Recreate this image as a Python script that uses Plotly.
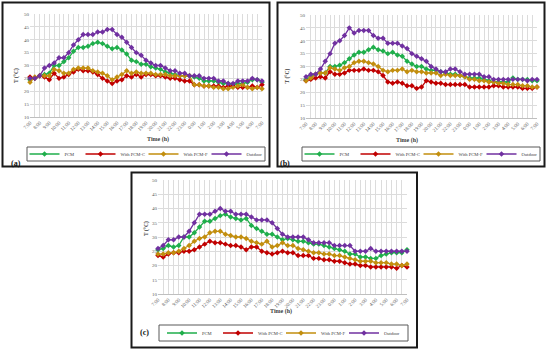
import plotly.graph_objects as go

hour_labels = ["7:00", "8:00", "9:00", "10:00", "11:00", "12:00", "13:00", "14:00", "15:00",
               "16:00", "17:00", "18:00", "19:00", "20:00", "21:00", "22:00", "23:00", "0:00",
               "1:00", "2:00", "3:00", "4:00", "5:00", "6:00", "7:00"]

# Panel (a)
a_pcm = [24.5, 25, 26, 26.5, 27, 30, 30, 31.5, 33, 35.5, 37, 37, 37.5, 38.5, 39, 38.5, 37.5, 36.5,
         37, 36, 34.5, 32, 31.5, 30.5, 30.5, 29.5, 29, 28.5, 27.5, 27, 26.5, 26, 26, 26, 25.5, 25,
         24, 24, 24, 23.5, 23, 23, 22.5, 23, 23, 23.5, 24.5, 24.5, 23.5]
a_pcm_c = [25.5, 25, 26, 25.5, 24.5, 27, 25, 25.5, 26.5, 27.5, 28.5, 28, 28, 27.5, 26.5, 25, 24,
           23, 24, 24.5, 26, 25.5, 26.5, 25.5, 26.5, 26.5, 26, 26, 25.5, 25, 25, 24.5, 24, 24, 22.5,
           22.5, 22, 22, 22, 22, 21.5, 22, 22, 21.5, 21.5, 21.5, 22, 21.5, 22.5]
a_pcm_f = [23.5, 25.5, 26, 26, 26, 28.5, 28, 27, 27, 28.5, 29, 29, 29, 28, 27.5, 27, 26, 24.5, 25.5,
           26.5, 28, 27, 27.5, 27, 27, 27, 26.5, 26.5, 26.5, 26, 26, 26, 26, 26, 22.5, 22.5, 22, 22,
           21.5, 21.5, 21, 21, 21.5, 22, 22.5, 21.5, 21, 21.5, 21]
a_out = [25, 25, 26, 29, 30, 31, 33, 33, 35, 38, 40, 42, 42, 42, 43, 43, 44, 44, 42, 41, 39, 37, 35,
         34, 32, 31, 30, 30, 29, 28, 28, 27, 27, 26, 26, 26, 25, 25, 25, 24, 24, 23, 23, 24, 24, 24,
         25, 24.5, 24]

# Panel (b)
b_pcm = [25, 26, 27, 27.5, 27.5, 30, 30, 30.5, 31.5, 33, 34.5, 35.5, 35.5, 36.5, 37.5, 36.5, 36, 35,
         35.5, 34.5, 34, 32, 31, 30, 30, 29, 28.5, 28.5, 28, 27.5, 27, 27, 26.5, 26, 25.5, 25.5, 25.5,
         25, 24.5, 24, 24, 24, 24, 25.5, 25, 25, 25, 24.5, 24.5]
b_pcm_c = [24.5, 25, 25.5, 26, 25.5, 28, 27, 27, 27.5, 28.5, 28.5, 28.5, 29, 28.5, 28.5, 28, 26.5,
           24, 23.5, 24, 23.5, 22.5, 22.5, 21.5, 22, 24.5, 24, 23.5, 23.5, 23, 23, 23, 23, 23, 22, 22,
           22, 22, 22, 22.5, 22.5, 22, 22, 22, 22, 21.5, 21.5, 21.5, 22]
b_pcm_f = [24.5, 25.5, 27, 27.5, 27.5, 29.5, 29, 28.5, 29.5, 30, 31.5, 32, 32, 31.5, 31, 30, 28.5,
           28, 28.5, 28.5, 29, 28, 28.5, 28, 28, 27.5, 27.5, 27.5, 26.5, 27, 26.5, 26.5, 26.5, 26, 25,
           25, 24.5, 24.5, 24, 24, 23.5, 23.5, 23, 23, 23, 22.5, 22.5, 22, 22]
b_out = [26, 27, 27, 29, 32, 35, 39, 40, 42, 45, 43, 44, 44, 44, 42, 41, 41, 39, 39, 39, 38, 37, 35,
         34, 33, 32, 30, 29, 28, 28, 29, 29, 28, 27, 27, 27, 27, 26, 26, 25, 25, 25, 25, 25, 25, 25,
         24.5, 25, 25]

# Panel (c)
c_pcm = [25.5, 26, 27, 26.5, 27, 30, 30, 31.5, 33.5, 35.5, 35.5, 36.5, 37.5, 38, 37, 36.5, 36, 36.5,
         34, 33, 32, 31, 31, 30, 29, 29.5, 29, 28.5, 28.5, 28, 27.5, 27.5, 27, 26.5, 26, 25.5, 25, 24,
         24, 23, 23, 22.5, 22.5, 23.5, 24, 24.5, 24.5, 24.5, 25.5]
c_pcm_c = [23.5, 23, 24, 24.5, 24.5, 25, 25, 25.5, 26.5, 27.5, 28.5, 28, 28, 27.5, 27, 27, 26.5,
           25.5, 26.5, 26.5, 25, 24.5, 24, 24.5, 25, 24.5, 24.5, 23.5, 23.5, 23.5, 22.5, 22.5, 22, 22,
           21.5, 21.5, 21, 20.5, 20.5, 20, 20, 19.5, 19.5, 19.5, 19.5, 19.5, 19, 20, 19.5]
c_pcm_f = [24, 24, 24.5, 24.5, 25, 26, 27, 28.5, 29.5, 30, 31.5, 32, 32, 31, 30.5, 30, 30, 29.5,
           28.5, 28, 27.5, 28.5, 26.5, 27, 28, 27, 27, 26, 25.5, 25, 24.5, 24.5, 24, 24, 23.5, 23.5,
           23, 22.5, 22, 21.5, 21.5, 21.5, 21, 21, 21, 20.5, 20.5, 20, 20.5]
c_out = [26, 27, 29, 29, 30, 30, 32, 35, 38, 38, 38, 39, 40, 39, 39, 38, 38, 38, 37, 36, 36, 36, 35,
         33, 31, 30, 30, 30, 30, 29, 28, 28, 28, 28, 27, 27, 27, 27, 25, 25, 25, 26, 25, 25, 25, 25,
         25, 25, 25]

series_names = ["PCM", "With PCM-C", "With PCM-F", "Outdoor"]
series_colors = ["#1FAE4B", "#C00000", "#C28E0E", "#7030A0"]
legend_text_widths = [11, 18, 18, 16]

panels = [
    ("a", [a_pcm, a_pcm_c, a_pcm_f, a_out]),
    ("b", [b_pcm, b_pcm_c, b_pcm_f, b_out]),
    ("c", [c_pcm, c_pcm_c, c_pcm_f, c_out]),
]

W, H = 550, 351
def px(x):
    return x / W
def py(y):
    return 1 - y / H

# plot-area boxes in pixels: (x0, x1, ytop, ybottom)
areas = [(30, 262, 14, 117), (306, 537, 15, 118), (158, 407, 180, 294)]
# legend frame in pixels: (x0, y0, x1, y1)
legend_frames = [(27, 147, 265, 161), (302, 147, 540, 161), (159, 325, 408, 341)]
ytitle_pos = [(11, 66), (287, 67), (141, 238)]
xtitle_pos = [(145, 139), (420, 140), (281, 317)]
tag_pos = [(9, 163), (285, 163), (138, 339)]
boxes = [(2.5, 2.5, 269.5, 166.5), (277.5, 2.5, 544.5, 166.5), (131.5, 172.5, 417, 347.5)]

n = len(a_pcm)
xs = list(range(n))
tickvals = list(range(n))
ticktext = []
for i in range(n):
    ticktext.append(hour_labels[i // 2] if i % 2 == 0 else "")

serif = "Liberation Serif"
fig = go.Figure()
layout = dict(
    width=W, height=H, margin=dict(l=0, r=0, t=0, b=0, pad=0, autoexpand=False),
    paper_bgcolor="white", plot_bgcolor="white",
    font=dict(family=serif, color="#404040"),
    showlegend=True,
)
shapes = []
annotations = []

for k, (tag, data) in enumerate(panels):
    suffix = "" if k == 0 else str(k + 1)
    x0, x1, yt, yb = areas[k]
    leg = "legend" if k == 0 else f"legend{k + 1}"
    for name, color, vals, lw in zip(series_names, series_colors, data, legend_text_widths):
        fig.add_trace(go.Scatter(
            x=xs, y=vals, name=name, mode="lines+markers",
            line=dict(color=color, width=1.3),
            marker=dict(symbol="diamond", size=4.2, color=color),
            xaxis="x" + suffix, yaxis="y" + suffix, legend=leg, cliponaxis=False,
            legendwidth=lw,
        ))
    layout["xaxis" + suffix] = dict(
        domain=[px(x0), px(x1)], anchor="y" + suffix, range=[0, n - 1],
        tickmode="array", tickvals=tickvals, ticktext=ticktext, tickangle=-45,
        tickfont=dict(size=5, family=serif, color="#595959"),
        showgrid=True, gridcolor="#DCDCDC", gridwidth=0.8,
        showline=True, linecolor="#BFBFBF", linewidth=0.8, ticks="", zeroline=False,
    )
    layout["yaxis" + suffix] = dict(
        domain=[py(yb), py(yt)], anchor="x" + suffix, range=[10, 50], dtick=5,
        tickfont=dict(size=5, family=serif, color="#595959"),
        showgrid=True, gridcolor="#DCDCDC", gridwidth=0.8,
        showline=False, ticks="", zeroline=False,
    )
    fx0, fy0, fx1, fy1 = legend_frames[k]
    layout[leg] = dict(
        orientation="h", x=px((fx0 + fx1) / 2), y=py((fy0 + fy1) / 2),
        xanchor="center", yanchor="middle",
        borderwidth=0, bgcolor="rgba(0,0,0,0)",
        font=dict(size=4.6, family=serif, color="#404040"),
        itemwidth=30, tracegroupgap=0,
    )
    shapes.append(dict(type="rect", xref="paper", yref="paper", x0=px(fx0), x1=px(fx1),
                       y0=py(fy1), y1=py(fy0), line=dict(color="#595959", width=1),
                       fillcolor="white", layer="below"))
    tx, ty = ytitle_pos[k]
    annotations.append(dict(text="<b>T (°C)</b>", x=px(tx), y=py(ty), xref="paper", yref="paper",
                            showarrow=False, textangle=-90, font=dict(size=5.5, family=serif, color="#404040")))
    tx, ty = xtitle_pos[k]
    annotations.append(dict(text="<b>Time (h)</b>", x=px(tx), y=py(ty), xref="paper", yref="paper",
                            showarrow=False, font=dict(size=6, family=serif, color="#404040")))
    tx, ty = tag_pos[k]
    annotations.append(dict(text=f"<b>({tag})</b>", x=px(tx), y=py(ty), xref="paper", yref="paper",
                            showarrow=False, font=dict(size=8, family=serif, color="#111111")))
    bx0, by0, bx1, by1 = boxes[k]
    shapes.append(dict(type="rect", xref="paper", yref="paper", x0=px(bx0), x1=px(bx1),
                       y0=py(by1), y1=py(by0), line=dict(color="#1A1A1A", width=2),
                       fillcolor="rgba(0,0,0,0)", layer="above"))

layout["shapes"] = shapes
layout["annotations"] = annotations
fig.update_layout(**layout)
fig.write_html("out.html", config={"displayModeBar": False},
               post_script="document.body.style.margin='0px';document.body.style.padding='0px';")
